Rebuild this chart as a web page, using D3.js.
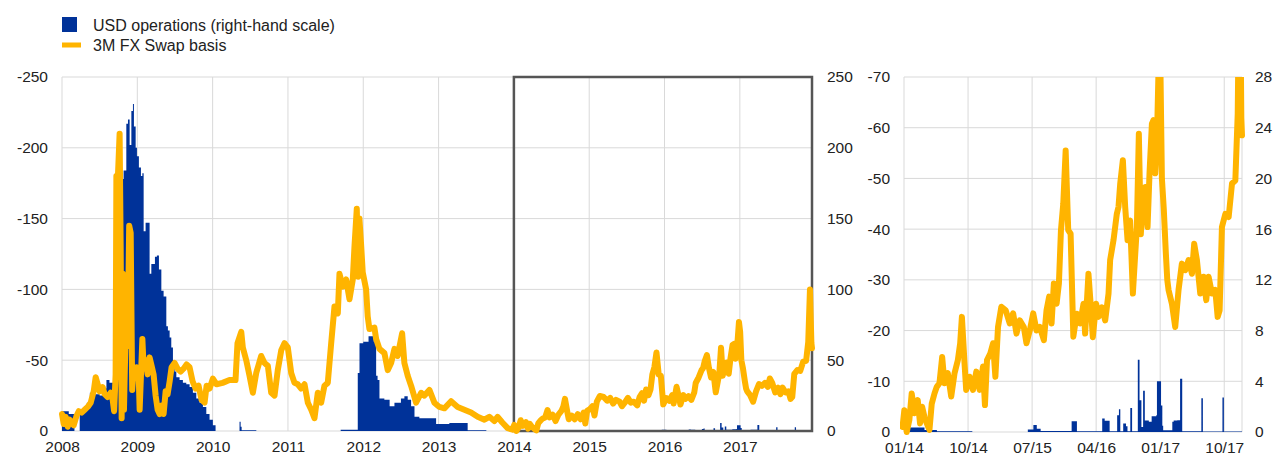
<!DOCTYPE html>
<html>
<head>
<meta charset="utf-8">
<script src="https://cdn.jsdelivr.net/npm/d3@7"></script>
<style>
  body { margin: 0; background: #fff; }
  svg { display: block; font-family: "Liberation Sans", Arial, sans-serif; }
</style>
</head>
<body>
<svg id="chart" width="1274" height="458"></svg>
<script>
// ---- Data: 3M FX swap basis (bp, negative), as [decimal year, value] ----
const basis2008_09 = [
  [2008.000,-12],[2008.023,-5],[2008.049,-10],[2008.076,-3],[2008.102,-8],[2008.129,-6],[2008.155,-4],
  [2008.195,-11],[2008.222,-14],[2008.261,-13],[2008.301,-15],[2008.341,-17],[2008.381,-20],[2008.421,-28],
  [2008.447,-38],[2008.474,-33],[2008.500,-28],[2008.540,-31],[2008.566,-26],[2008.606,-24],[2008.646,-27],
  [2008.673,-22],[2008.692,-14],[2008.712,-40],[2008.722,-180],[2008.739,-175],[2008.765,-210],[2008.779,-130],
  [2008.792,-9],[2008.807,-111],[2008.823,-15],[2008.845,-70],[2008.872,-60],[2008.892,-145],[2008.912,-140],
  [2008.932,-29],[2008.952,-45],[2008.975,-40],[2008.991,-45],[2009.018,-40],[2009.031,-15],[2009.067,-65],
  [2009.084,-45],[2009.110,-50],[2009.137,-40],[2009.163,-52],[2009.190,-46],[2009.216,-40],[2009.243,-25],
  [2009.270,-15],[2009.296,-12],[2009.323,-18],[2009.349,-12],[2009.376,-28],[2009.402,-26],[2009.429,-35],
  [2009.455,-45],[2009.495,-48],[2009.535,-44],[2009.575,-42],[2009.614,-44],[2009.654,-47],[2009.694,-45],
  [2009.734,-35],[2009.774,-30],[2009.813,-32],[2009.853,-22],[2009.893,-20],[2009.920,-32],[2009.960,-30]
];
const basis2010_11 = [
  [2010.003,-37],[2010.052,-33],[2010.132,-34],[2010.224,-36],[2010.304,-36],[2010.330,-62],[2010.380,-70],
  [2010.401,-59],[2010.446,-50],[2010.490,-39],[2010.534,-27],[2010.579,-41],[2010.645,-53],[2010.689,-48],
  [2010.733,-46],[2010.778,-27],[2010.822,-25],[2010.865,-43],[2010.911,-57],[2010.954,-62],[2010.998,-59],
  [2011.043,-41],[2011.087,-34],[2011.131,-33],[2011.176,-30],[2011.220,-33],[2011.264,-20],[2011.309,-15],
  [2011.352,-9],[2011.396,-27],[2011.441,-20],[2011.485,-32],[2011.529,-34],[2011.574,-62],[2011.618,-88],
  [2011.662,-83],[2011.684,-111],[2011.728,-102],[2011.773,-107],[2011.817,-93],[2011.861,-107],[2011.883,-130],
  [2011.914,-157],[2011.932,-109],[2011.949,-150],[2011.972,-131],[2011.993,-112]
];
const basis2012_13 = [
  [2012.038,-100],[2012.059,-81],[2012.082,-72],[2012.148,-73],[2012.171,-65],[2012.215,-58],[2012.281,-55],
  [2012.325,-43],[2012.370,-48],[2012.414,-58],[2012.457,-53],[2012.516,-69],[2012.546,-48],[2012.590,-39],
  [2012.635,-32],[2012.701,-20],[2012.768,-27],[2012.812,-25],[2012.878,-29],[2012.944,-20],[2013.011,-17],
  [2013.077,-16],[2013.166,-21],[2013.253,-17],[2013.342,-15],[2013.431,-13],[2013.519,-10],[2013.608,-8],
  [2013.674,-10],[2013.740,-7],[2013.784,-10],[2013.846,-6],[2013.917,-2],[2013.983,-1]
];
const basis2014_15 = [
  [2014.004,-4.3],[2014.032,0],[2014.063,-2.4],[2014.090,-7.6],[2014.122,-3.7],[2014.161,-6.3],[2014.188,-1.7],
  [2014.212,-5],[2014.239,-3],[2014.267,-1.7],[2014.298,-0.4],[2014.325,-5.6],[2014.357,-7.6],[2014.384,-8.9],
  [2014.415,-9.6],[2014.447,-14.8],[2014.474,-9.6],[2014.513,-11.6],[2014.553,-7],[2014.592,-11.6],[2014.631,-14.2],
  [2014.658,-17.5],[2014.678,-22.7],[2014.709,-13.5],[2014.728,-8.3],[2014.768,-10.9],[2014.808,-8.3],[2014.847,-11.9],
  [2014.886,-8.3],[2014.925,-12.9],[2014.948,-5.3],[2014.972,-14.2],[2015.011,-15.5],[2015.043,-17.5],[2015.070,-10.9],
  [2015.101,-20.7],[2015.140,-24.7],[2015.191,-24],[2015.238,-21.4],[2015.278,-23.4],[2015.317,-19.4],[2015.356,-22],
  [2015.403,-20.7],[2015.434,-17.5],[2015.473,-20],[2015.513,-23.4],[2015.552,-20],[2015.591,-20.7],[2015.638,-18.1],
  [2015.669,-24],[2015.700,-26.7],[2015.728,-21.4],[2015.755,-29.3],[2015.787,-25.3],[2015.814,-29.3],[2015.838,-39.8],
  [2015.865,-45],[2015.893,-55.5],[2015.923,-39.8],[2015.951,-39.1],[2015.983,-18.8]
];
const basis2016_17 = [
  [2016.023,-23.3],[2016.063,-21.4],[2016.102,-25.3],[2016.121,-19.4],[2016.160,-31.2],[2016.188,-24.6],[2016.211,-18.7],
  [2016.250,-25.3],[2016.278,-22.7],[2016.317,-24.6],[2016.356,-22],[2016.395,-27.3],[2016.414,-33.9],[2016.453,-37.8],
  [2016.492,-43],[2016.512,-44.4],[2016.532,-49],[2016.563,-53.6],[2016.590,-44.4],[2016.618,-37.8],[2016.648,-41.7],
  [2016.680,-27.3],[2016.708,-35.2],[2016.727,-40.4],[2016.750,-58.8],[2016.773,-39],[2016.797,-45.7],[2016.824,-48.3],
  [2016.852,-40.4],[2016.875,-51],[2016.903,-60.8],[2016.922,-61.5],[2016.942,-51],[2016.961,-56.9],[2016.988,-77],
  [2017.004,-70],[2017.020,-50],[2017.042,-44],[2017.067,-35],[2017.083,-30],[2017.098,-28],[2017.137,-25.3],
  [2017.176,-20.7],[2017.215,-28],[2017.254,-33.2],[2017.293,-31.9],[2017.333,-33.9],[2017.372,-31.2],[2017.398,-37.1],
  [2017.430,-33.9],[2017.469,-27.3],[2017.508,-30.6],[2017.539,-26],[2017.567,-30.6],[2017.606,-27.3],[2017.645,-28],
  [2017.673,-22.7],[2017.696,-24],[2017.723,-40.4],[2017.763,-43],[2017.802,-42.4],[2017.841,-49],[2017.880,-49.6],
  [2017.908,-62.8],[2017.931,-100],[2017.950,-62],[2017.958,-58.5]
];

// ---- Data: USD liquidity-providing operations (EUR bn), step values from each date ----
const usdOps2008_09 = [
  [2008.000,14],[2008.090,12],[2008.165,0],[2008.235,15],[2008.280,17],[2008.330,20],[2008.370,27],[2008.400,28],
  [2008.450,26],[2008.500,25],[2008.550,30],[2008.590,36],[2008.630,34],[2008.700,45],[2008.720,90],[2008.745,140],
  [2008.770,165],[2008.795,178],[2008.818,184],[2008.854,217],[2008.876,220],[2008.898,202],[2008.921,226],[2008.942,231],
  [2008.955,215],[2008.978,200],[2008.995,194],[2009.021,186],[2009.048,180],[2009.067,182],[2009.084,141],[2009.110,147],
  [2009.163,111],[2009.186,118],[2009.234,123],[2009.260,124],[2009.287,114],[2009.319,99],[2009.349,95],[2009.385,74],
  [2009.406,71],[2009.429,66],[2009.451,59],[2009.473,50],[2009.495,42],[2009.518,38],[2009.561,36],[2009.605,34],
  [2009.650,33],[2009.694,31],[2009.738,27],[2009.783,23],[2009.827,20],[2009.871,17],[2009.916,12],[2009.959,8],
  [2010.003,4],[2010.039,0]
];
const usdOps2010_13 = [
  [2010.357,6.5],[2010.372,3],[2010.385,0.5],[2010.580,0],[2011.700,0.8],[2011.927,41],[2011.950,62],[2012.000,63],
  [2012.070,67],[2012.140,63],[2012.171,39],[2012.190,36],[2012.215,23],[2012.280,22],[2012.350,17.5],[2012.414,20],
  [2012.500,23],[2012.546,24.5],[2012.590,22],[2012.635,17.5],[2012.680,10],[2012.745,9],[2012.967,5],[2013.143,5.7],
  [2013.386,0.5],[2013.634,0]
];
const usdOps2014_17 = [
  [2014.000,0.2],[2014.055,0.35],[2014.240,0.15],[2014.385,0.05],[2014.800,0],[2015.450,0.2],[2015.515,0.55],
  [2015.555,0.25],[2015.600,0.08],[2015.963,0.85],[2016.025,0.05],[2016.321,1.07],[2016.350,0.88],[2016.408,0.05],
  [2016.496,1.33],[2016.517,1.8],[2016.533,0.05],[2016.567,0.67],[2016.600,0.45],[2016.617,0.05],[2016.650,1.9],
  [2016.671,0.05],[2016.738,5.7],[2016.758,2.5],[2016.780,0.4],[2016.800,3.25],[2016.820,0.9],[2016.867,0.8],
  [2016.900,1.25],[2016.954,1.33],[2016.962,4.0],[2017.010,2.1],[2017.025,0.5],[2017.035,0.13],[2017.142,0.8],
  [2017.158,0.9],[2017.200,0.93],[2017.233,4.2],[2017.258,0.05],[2017.482,2.67],[2017.500,0.03],[2017.729,2.72],
  [2017.746,0.03],[2017.958,0.03]
];

// ---- Axis ticks and labels ----
const mainYears = [2008, 2009, 2010, 2011, 2012, 2013, 2014, 2015, 2016, 2017];
const mainLeftTicks = [0, -50, -100, -150, -200, -250];
const mainRightTicks = [0, 50, 100, 150, 200, 250];
const zoomMonthTicks = [2014, 2014.75, 2015.5, 2016.25, 2017, 2017.75];
const zoomMonthLabels = ["01/14", "10/14", "07/15", "04/16", "01/17", "10/17"];
const zoomLeftTicks = [0, -10, -20, -30, -40, -50, -60, -70];
const zoomRightTicks = [0, 4, 8, 12, 16, 20, 24, 28];
const legendItems = ["USD operations (right-hand scale)", "3M FX Swap basis"];

const BLUE = "#003299", ORANGE = "#FFB400", GRID = "#d9d9d9", TEXT = "#222";
const END = 2017.958;

const basis = [].concat(basis2008_09, basis2010_11, basis2012_13, basis2014_15, basis2016_17);
const usdOps = [].concat(usdOps2008_09, usdOps2010_13, usdOps2014_17);

const svg = d3.select("#chart");

// ---- Legend ----
const legend = svg.append("g");
legend.append("rect").attr("x", 62).attr("y", 17).attr("width", 15).attr("height", 15).attr("fill", BLUE);
legend.append("rect").attr("x", 62).attr("y", 42.5).attr("width", 19).attr("height", 5).attr("fill", ORANGE);
legend.selectAll("text").data(legendItems).join("text")
  .attr("x", 93).attr("y", (d, i) => i === 0 ? 25 : 45).attr("dy", "0.35em")
  .attr("font-size", 16).attr("fill", TEXT).text(d => d);

function drawPanel(opt) {
  const g = svg.append("g");
  const [x0, x1] = opt.x.range();
  const [yb, yt] = opt.yL.range();

  // gridlines
  g.append("g").selectAll("line").data(opt.yLTicks).join("line")
    .attr("x1", x0).attr("x2", x1).attr("y1", d => opt.yL(d)).attr("y2", d => opt.yL(d))
    .attr("stroke", GRID).attr("stroke-width", 1);
  g.append("g").selectAll("line").data(opt.xGrid).join("line")
    .attr("x1", d => opt.x(d)).attr("x2", d => opt.x(d)).attr("y1", yt).attr("y2", yb)
    .attr("stroke", GRID).attr("stroke-width", 1);

  // bars (step area)
  const ops = opt.ops.concat([[opt.x.domain()[1], opt.ops[opt.ops.length - 1][1]]]);
  g.append("path").datum(ops)
    .attr("fill", BLUE)
    .attr("d", d3.area().curve(d3.curveStepAfter)
      .x(d => opt.x(d[0])).y0(opt.yR(0)).y1(d => opt.yR(d[1])));

  if (opt.box) opt.box(g);

  // basis line
  const clipId = "clip" + opt.id;
  svg.append("clipPath").attr("id", clipId).append("rect")
    .attr("x", x0 - 4).attr("y", yt).attr("width", x1 - x0 + 8).attr("height", yb - yt + 10);
  g.append("path").datum(opt.basis)
    .attr("clip-path", `url(#${clipId})`)
    .attr("fill", "none").attr("stroke", ORANGE).attr("stroke-width", 6)
    .attr("stroke-linejoin", "round").attr("stroke-linecap", "round")
    .attr("d", d3.line().x(d => opt.x(d[0])).y(d => opt.yL(d[1])));

  // axes
  const styleAxis = sel => {
    sel.select(".domain").remove();
    sel.selectAll(".tick line").remove();
    sel.selectAll("text").attr("font-size", 15.5).attr("fill", TEXT)
      .attr("font-family", '"Liberation Sans", Arial, sans-serif');
  };
  g.append("g").attr("transform", `translate(${opt.leftLabelX},0)`)
    .call(d3.axisLeft(opt.yL).tickValues(opt.yLTicks).tickSize(0).tickPadding(0).tickFormat(d => String(d)))
    .call(styleAxis);
  g.append("g").attr("transform", `translate(${opt.rightLabelX},0)`)
    .call(d3.axisRight(opt.yR).tickValues(opt.yRTicks).tickSize(0).tickPadding(0).tickFormat(d => String(d)))
    .call(styleAxis);
  g.append("g").attr("transform", `translate(0,${yb + 10})`)
    .call(d3.axisBottom(opt.x).tickValues(opt.xTicks).tickSize(0).tickPadding(0).tickFormat(opt.xFormat))
    .call(styleAxis);
}

// ---- Main panel: 2008 to end-2017 ----
const xMain = d3.scaleLinear().domain([2008, END]).range([62, 812]);
const yMainL = d3.scaleLinear().domain([0, -250]).range([431, 77]);
const yMainR = d3.scaleLinear().domain([0, 250]).range([431, 77]);

drawPanel({
  id: "main", x: xMain, yL: yMainL, yR: yMainR,
  yLTicks: mainLeftTicks, yRTicks: mainRightTicks,
  xGrid: mainYears, xTicks: mainYears, xFormat: d => String(d),
  leftLabelX: 48, rightLabelX: 827,
  ops: usdOps, basis: basis,
  box: g => g.append("rect")
    .attr("x", xMain(2014)).attr("y", yMainL(-250))
    .attr("width", xMain(END) - xMain(2014)).attr("height", yMainL(0) - yMainL(-250))
    .attr("fill", "none").attr("stroke", "#555").attr("stroke-width", 2.5)
});

// ---- Detail panel: 2014 to end-2017 ----
const xZoom = d3.scaleLinear().domain([2014, END]).range([904, 1242]);
const yZoomL = d3.scaleLinear().domain([0, -70]).range([432, 77]);
const yZoomR = d3.scaleLinear().domain([0, 28]).range([432, 77]);

drawPanel({
  id: "zoom", x: xZoom, yL: yZoomL, yR: yZoomR,
  yLTicks: zoomLeftTicks, yRTicks: zoomRightTicks,
  xGrid: zoomMonthTicks.concat([END]), xTicks: zoomMonthTicks,
  xFormat: d => zoomMonthLabels[zoomMonthTicks.indexOf(d)],
  leftLabelX: 890, rightLabelX: 1255,
  ops: usdOps.filter(d => d[0] >= 2014),
  basis: basis.filter(d => d[0] >= 2013.98)
});
</script>
</body>
</html>
